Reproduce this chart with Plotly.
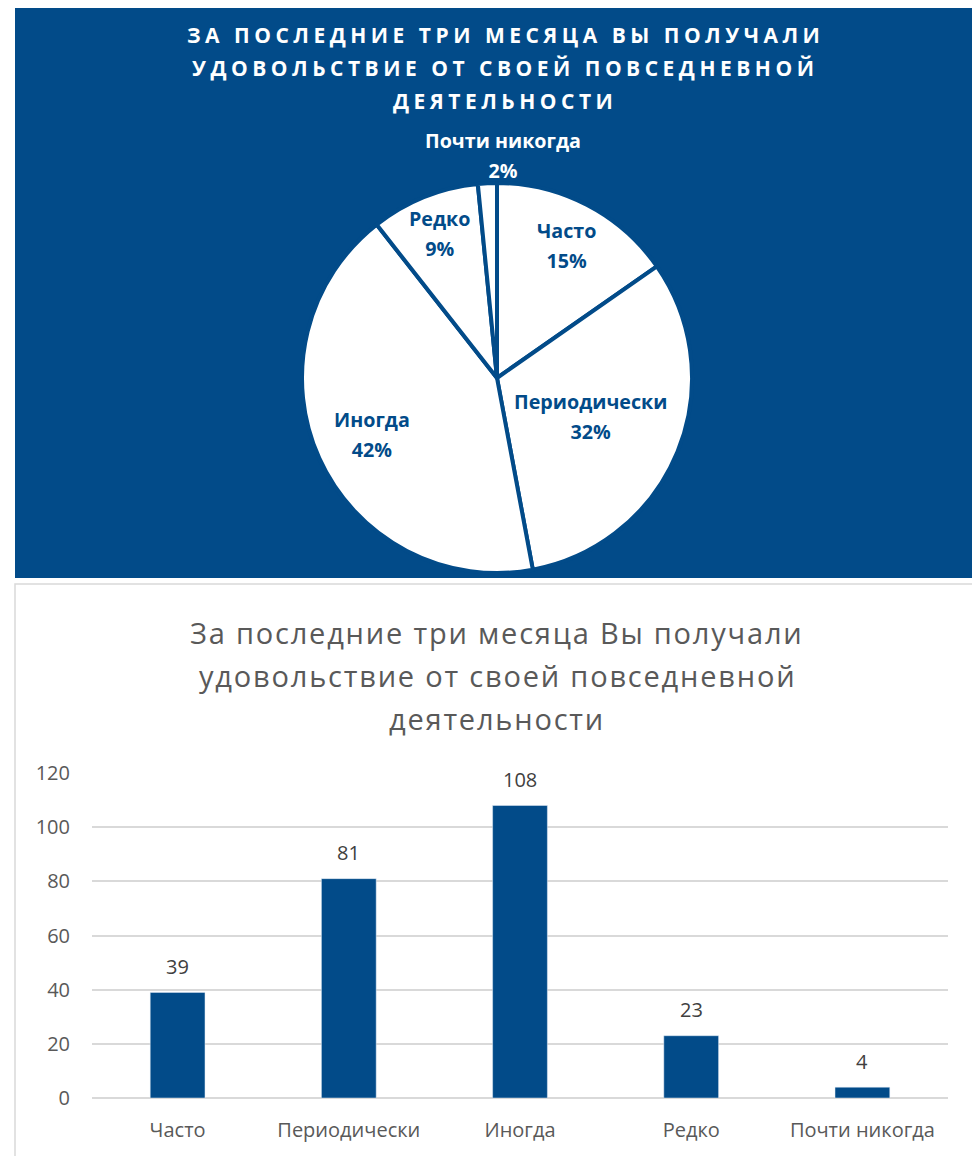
import math
import plotly.graph_objects as go

categories = ["Часто", "Периодически", "Иногда", "Редко", "Почти никогда"]
counts = [39, 81, 108, 23, 4]
y_ticks = [0, 20, 40, 60, 80, 100, 120]
pie_title_lines = ["ЗА ПОСЛЕДНИЕ ТРИ МЕСЯЦА ВЫ ПОЛУЧАЛИ",
                   "УДОВОЛЬСТВИЕ ОТ СВОЕЙ ПОВСЕДНЕВНОЙ",
                   "ДЕЯТЕЛЬНОСТИ"]
bar_title_lines = ["За последние три месяца Вы получали",
                   "удовольствие от своей повседневной",
                   "деятельности"]

BLUE = "#024B89"
GRAY = "#595959"
W, H = 980, 1156
OFF = 8  # page body margin in the rendered screenshot


def px_x(x):
    return (x - OFF) / W


def px_y(y):
    return 1 - (y - OFF) / H


fig = go.Figure()

fig.add_trace(go.Pie(
    labels=categories,
    values=counts,
    sort=False,
    direction="clockwise",
    rotation=0,
    textinfo="none",
    marker=dict(colors=["white"] * 5, line=dict(color=BLUE, width=4)),
    domain=dict(x=[px_x(302), px_x(692)], y=[px_y(573), px_y(183)]),
    showlegend=False,
    hoverinfo="label+value+percent",
))

fig.add_trace(go.Bar(
    x=categories,
    y=counts,
    marker=dict(color=BLUE),
    showlegend=False,
    width=0.32,
))

annotations = []
for i, line in enumerate(pie_title_lines):
    annotations.append(dict(
        xref="paper", yref="paper", x=px_x(505), y=px_y(35 + 33 * i),
        text=f'<span style="letter-spacing:4.5px">{line}</span>',
        showarrow=False, xanchor="center", yanchor="middle",
        font=dict(family="Open Sans", size=21, weight="bold", color="white")))
for i, line in enumerate(bar_title_lines):
    annotations.append(dict(
        xref="paper", yref="paper", x=px_x(497), y=px_y(632 + 43 * i),
        text=f'<span style="letter-spacing:1.8px">{line}</span>',
        showarrow=False, xanchor="center", yanchor="middle",
        font=dict(family="Open Sans", size=29, color=GRAY)))

# bar value labels, placed through the data axes
for cat, v in zip(categories, counts):
    annotations.append(dict(
        xref="x", yref="y", x=cat, y=v, yshift=26,
        text=str(v), showarrow=False, xanchor="center", yanchor="middle",
        font=dict(family="Open Sans", size=20, color="#404040")))

# pie labels placed along each slice bisector
total = sum(counts)
cx, cy, R = 497, 378, 194
label_radius = [0.77, 0.52, 0.71, 0.80, None]
label_colors = [BLUE, BLUE, BLUE, BLUE, "white"]
cum = 0
for i, (cat, v) in enumerate(zip(categories, counts)):
    mid = (cum + v / 2) / total * 2 * math.pi
    cum += v
    if label_radius[i] is None:
        lx, ly = cx + 6, cy - R - 29
    else:
        r = R * label_radius[i]
        lx = cx + r * math.sin(mid)
        ly = cy - r * math.cos(mid)
    annotations.append(dict(
        xref="paper", yref="paper", x=px_x(lx), y=px_y(ly),
        text=f'<span style="font-size:19.7px">{cat}<br>{round(v / total * 100)}%</span>',
        showarrow=False, xanchor="center", yanchor="middle",
        font=dict(family="Open Sans", size=23, weight="bold", color=label_colors[i])))

shapes = [
    dict(type="rect", xref="paper", yref="paper", layer="below",
         x0=px_x(15), x1=px_x(975), y0=px_y(578), y1=px_y(0),
         fillcolor=BLUE, line=dict(width=0)),
    dict(type="rect", xref="paper", yref="paper", layer="below",
         x0=px_x(15), x1=px_x(975), y0=px_y(1170), y1=px_y(584),
         fillcolor="white", line=dict(color="#D9D9D9", width=1.5)),
]

fig.update_layout(
    width=W, height=H,
    margin=dict(l=0, r=0, t=0, b=0, autoexpand=False),
    paper_bgcolor="white",
    plot_bgcolor="white",
    xaxis=dict(domain=[px_x(92), px_x(948)], showgrid=False, showline=False,
               automargin=False, ticks="", ticklabelstandoff=18,
               tickfont=dict(family="Open Sans", size=20, color=GRAY),
               anchor="y"),
    yaxis=dict(domain=[px_y(1098), px_y(773)], range=[0, 120], tickvals=y_ticks,
               showgrid=True, gridcolor="#D9D9D9", gridwidth=1.5,
               zeroline=True, zerolinecolor="#D9D9D9", zerolinewidth=1.5,
               automargin=False, showline=False, ticks="", ticklabelstandoff=21,
               tickfont=dict(family="Open Sans", size=20, color=GRAY),
               anchor="x"),
    shapes=shapes,
    annotations=annotations,
)

fig.write_html("out.html")
